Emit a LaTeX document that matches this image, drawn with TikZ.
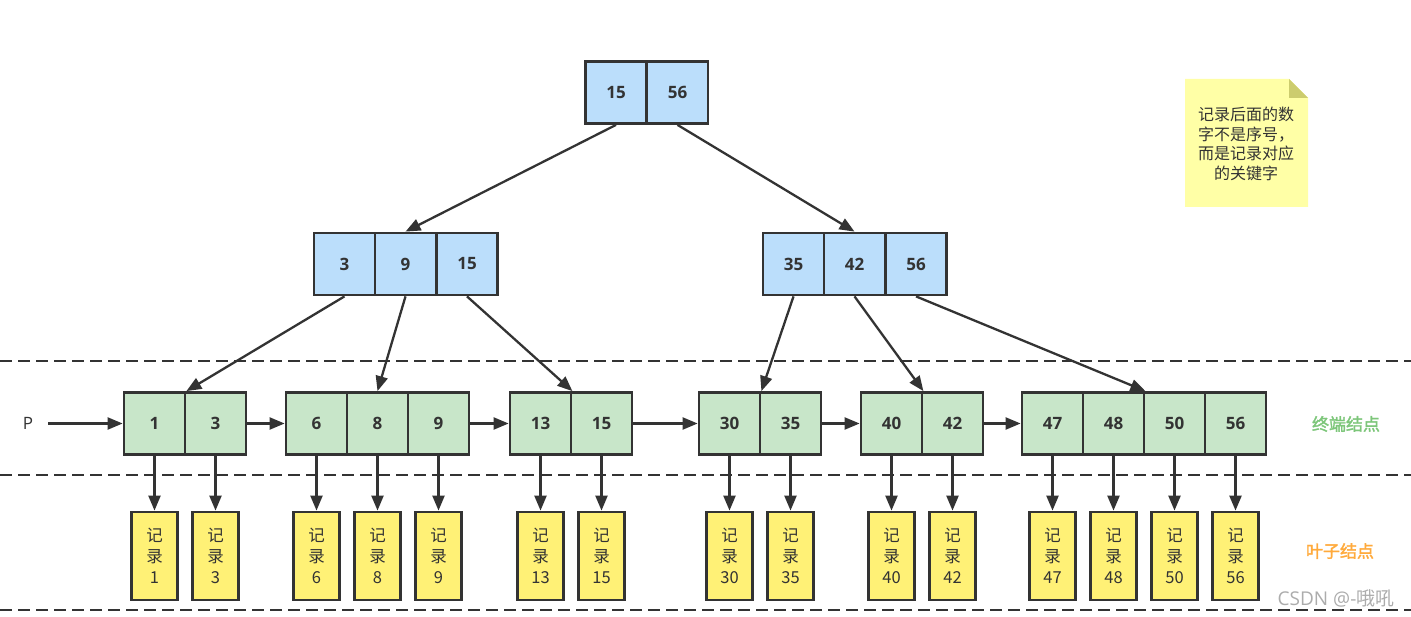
\documentclass[tikz,border=0pt]{standalone}
\usepackage{fontspec}
\setmainfont{Open Sans}
\newfontfamily\cjk{Noto Sans CJK SC}[AutoFakeBold=2]
\usetikzlibrary{arrows.meta}
\definecolor{keyblue}{HTML}{BBDEFB}
\definecolor{leafgreen}{HTML}{C8E6C9}
\definecolor{recyellow}{HTML}{FFF176}
\definecolor{notebg}{HTML}{FFFFA6}
\definecolor{notefold}{HTML}{CCCC6E}
\definecolor{edge}{HTML}{333333}
\definecolor{lblgreen}{HTML}{7DC67A}
\definecolor{lblorange}{HTML}{FFAA3C}

\begin{document}
\begin{tikzpicture}[x=1pt, y=-1pt,
       every node/.style={inner sep=0pt, text=edge},
       cell/.style={draw=edge, line width=2.8pt, minimum width=61pt,
             minimum height=62pt, font=\fontsize{17}{20}\selectfont\bfseries},
       inner/.style={cell, fill=keyblue},
       leaf/.style={cell, fill=leafgreen},
       rec/.style={draw=edge, line width=2.8pt, fill=recyellow, minimum width=46pt,
             minimum height=88pt, align=center, font=\cjk\fontsize{16.5}{21}\selectfont},
       link/.style={draw=edge, line width=2.3pt, -{Triangle[length=15pt,width=12pt]}},
       level/.style={draw=edge, line width=2.5pt, dash pattern=on 12pt off 6pt},
       tag/.style={font=\cjk\fontsize{17}{20}\selectfont\bfseries}]
\useasboundingbox (0,0) rectangle (1411,617);

\draw[level] (0,361) -- (1411,361);
\draw[level] (0,475) -- (1411,475);
\draw[level] (0,610) -- (1411,610);

\node[inner] (a15) at (616,92.5) {15};
\node[inner] (a56) at (677.5,92.5) {56};

\node[inner] (b3) at (344.5,264) {3};
\node[inner] (b9) at (405.5,264) {9};
\node[inner] (b15) at (467,264) {15};
\node[inner] (b35) at (793.5,264) {35};
\node[inner] (b42) at (854.5,264) {42};
\node[inner] (b56) at (916,264) {56};

\foreach \k/\x in {1/154.5, 3/215.5, 6/316.5, 8/377.5, 9/438.5, 13/540.5, 15/601.5,
                   30/729.5, 35/790.5, 40/891.5, 42/952.5,
                   47/1052.5, 48/1113.5, 50/1174.5, 56/1235.5}{
    \node[leaf] (l\k) at (\x,423.5) {\k};
    \node[rec] (r\k) at (\x,556) {记\\录\\\k};
    \draw[link] (l\k.south) -- (r\k.north);
}

\draw[link] (a15.south) -- (b9.north);
\draw[link] (a56.south) -- (b42.north);
\draw[link] (b3.south) -- (l1.north east);
\draw[link] (b9.south) -- (l8.north);
\draw[link] (b15.south) -- (l13.north east);
\draw[link] (b35.south) -- (l30.north east);
\draw[link] (b42.south) -- (l40.north east);
\draw[link] (b56.south) -- (l48.north east);

\node[font=\fontsize{17}{20}\selectfont] (p) at (28,423.5) {P};
\coordinate (start) at (48,423.5);
\draw[link] (start) -- (l1);
\draw[link] (l3) -- (l6);
\draw[link] (l9) -- (l13);
\draw[link] (l15) -- (l30);
\draw[link] (l35) -- (l40);
\draw[link] (l42) -- (l47);

\node[tag, text=lblgreen] (end) at (1346,424) {终端结点};
\node[tag, text=lblorange] (leaves) at (1340,551) {叶子结点};

\fill[notebg] (1185,79) -- (1289,79) -- (1308,98) -- (1308,207) -- (1185,207) -- cycle;
\fill[notefold] (1289,79) -- (1308,98) -- (1289,98) -- cycle;
\node[align=center, font=\cjk\fontsize{16}{19.5}\selectfont] (note) at (1246,144)
    {记录后面的数\\字不是序号，\\而是记录对应\\的关键字};

\node[text=gray!65, font=\fontsize{19}{22}\selectfont] (mark) at (1336,598) {CSDN @-{\cjk 哦吼}};
\end{tikzpicture}
\end{document}
